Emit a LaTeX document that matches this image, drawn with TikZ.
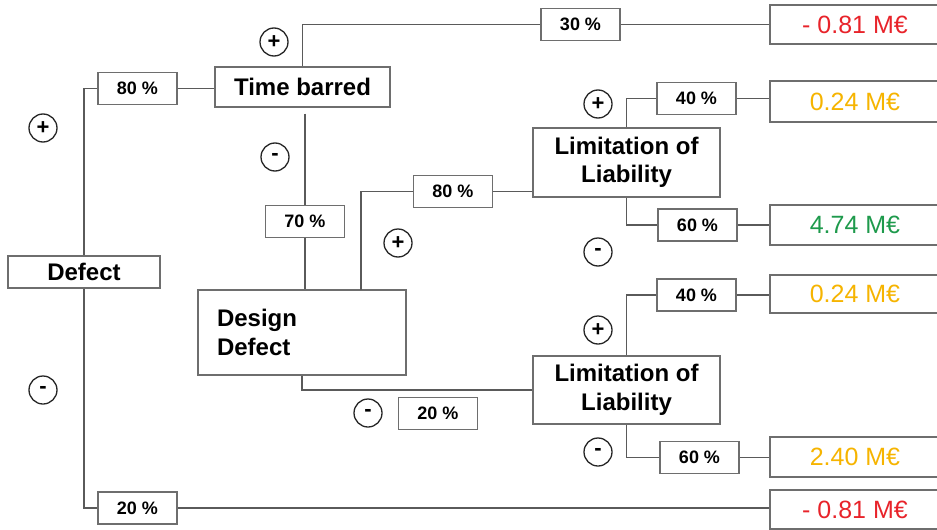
\documentclass[tikz,border=0pt]{standalone}
\usepackage{fontspec}
\setmainfont{Liberation Sans}
\definecolor{linegray}{HTML}{5A5A5A}
\definecolor{boxgray}{HTML}{6E6E6E}
\definecolor{lossred}{HTML}{E8232A}
\definecolor{midgold}{HTML}{F6B400}
\definecolor{gaingreen}{HTML}{1E9A4C}
\begin{document}
\begin{tikzpicture}[x=1pt,y=-1pt,
  box/.style={draw=boxgray, line width=1.2pt, fill=white, inner sep=0pt, align=center},
  event/.style={box, font=\fontsize{24}{28.5}\selectfont\bfseries},
  prob/.style={box, minimum width=79pt, minimum height=32pt, font=\fontsize{18}{20}\selectfont\bfseries},
  payoff/.style={box, minimum width=170pt, font=\fontsize{25}{28}\selectfont},
  sign/.style={circle, draw=black!85, line width=1.3pt, minimum size=28pt, inner sep=0pt, font=\fontsize{22}{22}\selectfont\bfseries},
  link/.style={draw=linegray, line width=1.4pt}]
\useasboundingbox (0,0) rectangle (937,530);
\clip (0,0) rectangle (937,530);

% decision nodes
\node[event, minimum width=152pt, minimum height=32pt] (defect) at (84,272) {Defect};
\node[event, minimum width=175pt, minimum height=40pt] (time) at (302.5,87) {Time barred};
\node[event, minimum width=208pt, minimum height=85pt, align=left, text width=170pt] (design) at (302,332.5) {Design\\Defect};
\node[event, minimum width=187pt, minimum height=69pt] (lim1) at (626.5,162.5) {Limitation of\\Liability};
\node[event, minimum width=187pt, minimum height=68pt] (lim2) at (626.5,390) {Limitation of\\Liability};

% probability labels
\node[prob] (p80a) at (137.5,88.5) {80 \%};
\node[prob] (p20b) at (137.5,508) {20 \%};
\node[prob] (p30) at (580.5,24.5) {30 \%};
\node[prob] (p70) at (305,221.5) {70 \%};
\node[prob] (p80b) at (453,191.5) {80 \%};
\node[prob] (p20a) at (438,413.5) {20 \%};
\node[prob] (p40a) at (696.5,98.5) {40 \%};
\node[prob] (p60a) at (697.5,225) {60 \%};
\node[prob] (p40b) at (696.5,295) {40 \%};
\node[prob] (p60b) at (699.5,457.5) {60 \%};

% outcomes
\node[payoff, minimum height=39pt, text=lossred] (m1) at (855,24.5) {- 0.81 M€};
\node[payoff, minimum height=41pt, text=midgold] (m2) at (855,101.5) {0.24 M€};
\node[payoff, minimum height=40pt, text=gaingreen] (m3) at (855,225) {4.74 M€};
\node[payoff, minimum height=38pt, text=midgold] (m4) at (855,294) {0.24 M€};
\node[payoff, minimum height=40pt, text=midgold] (m5) at (855,457) {2.40 M€};
\node[payoff, minimum height=39pt, text=lossred] (m6) at (855,509.5) {- 0.81 M€};

% branch origin on the top edge of the design-defect box
\coordinate (ddplus) at (361,290);

% connectors
\path[link] (defect.north) |- (p80a.west);
\path[link] (defect.south) |- (p20b.west);
\path[link] (p80a.east) -- (p80a.east -| time.west);
\path[link] (p20b.east) -- (p20b.east -| m6.west);
\path[link] (time.north) |- (p30.west);
\path[link] (p30.east) -- (p30.east -| m1.west);
\path[link] (time.south -| p70.north) ++(0,6) -- (p70.north);
\path[link] (p70.south) -- (p70.south |- design.north);
\path[link] (ddplus) |- (p80b.west);
\path[link] (p80b.east) -- (p80b.east -| lim1.west);
\path[link] (design.south) |- (lim2.west);
\path[link] (lim1.north) |- (p40a.west);
\path[link] (p40a.east) -- (p40a.east -| m2.west);
\path[link] (lim1.south) |- (p60a.west);
\path[link] (p60a.east) -- (p60a.east -| m3.west);
\path[link] (lim2.north) |- (p40b.west);
\path[link] (p40b.east) -- (p40b.east -| m4.west);
\path[link] (lim2.south) |- (p60b.west);
\path[link] (p60b.east) -- (p60b.east -| m5.west);

% branch signs
\node[sign] (s1) at (43,128) {+};
\node[sign] (s2) at (43,390) {-};
\node[sign] (s3) at (274,42) {+};
\node[sign] (s4) at (275,157) {-};
\node[sign] (s5) at (398,243) {+};
\node[sign] (s6) at (368,413) {-};
\node[sign] (s7) at (598,104) {+};
\node[sign] (s8) at (598,252) {-};
\node[sign] (s9) at (598,330) {+};
\node[sign] (s10) at (598,452) {-};
\end{tikzpicture}
\end{document}
